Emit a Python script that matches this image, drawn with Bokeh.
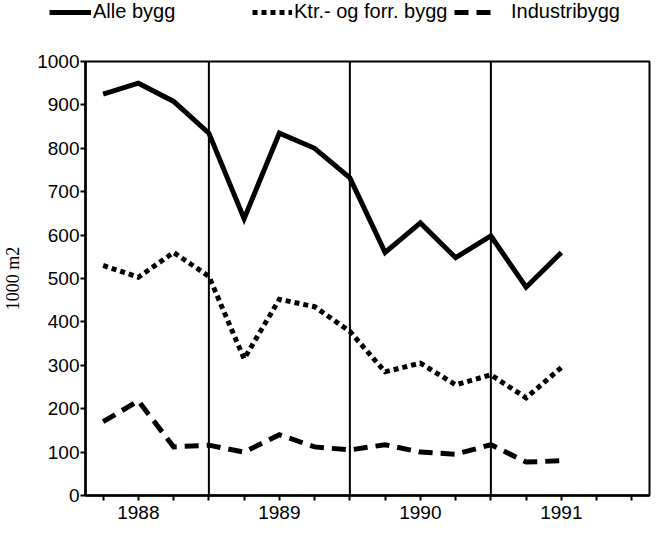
from bokeh.plotting import figure
from bokeh.layouts import column
from bokeh.models import Range1d, FixedTicker, Span, Legend, LegendItem
from bokeh.embed import file_html
from bokeh.resources import INLINE

# Quarterly positions: 1988 Q1 ... 1991 Q2
quarter_pos = list(range(1, 15))
alle_bygg = [925, 950, 908, 835, 638, 835, 800, 732, 560, 628, 548, 598, 480, 560]
ktr_forr = [530, 503, 560, 505, 315, 452, 435, 378, 285, 305, 255, 278, 225, 295]
industri = [170, 218, 112, 116, 100, 140, 112, 105, 117, 100, 95, 117, 77, 80]

series_names = ["Alle bygg", "Ktr.- og forr. bygg", "Industribygg"]
x_ticks = list(range(1, 17))
year_labels = ["1988", "1989", "1990", "1991"]
year_label_pos = [2, 6, 10, 14]
year_boundaries = [4, 8, 12]
y_ticks = list(range(0, 1001, 100))

SANS = "Liberation Sans"
SERIF = "Liberation Serif"
TOTAL_W = 647
LEG_H = 49

styles = [dict(line_dash="solid"), dict(line_dash="5 4"), dict(line_dash="14 8")]
series = [alle_bygg, ktr_forr, industri]

p = figure(frame_width=564, frame_height=434,
           min_border_left=79, min_border_right=4, min_border_top=12, min_border_bottom=27,
           x_range=Range1d(0.5, 16.5), y_range=Range1d(0, 1000),
           output_backend="svg", toolbar_location=None,
           background_fill_color="white", border_fill_color="white")

p.xgrid.visible = False
p.ygrid.visible = False
p.outline_line_color = "black"
p.outline_line_width = 2

p.xaxis.ticker = FixedTicker(ticks=x_ticks)
overrides = {t: "" for t in x_ticks}
for pos, lab in zip(year_label_pos, year_labels):
    overrides[pos] = lab
p.xaxis.major_label_overrides = overrides
p.yaxis.ticker = FixedTicker(ticks=y_ticks)
p.axis.minor_tick_line_color = None
p.axis.major_tick_in = 0
p.axis.major_tick_out = 5
p.axis.major_tick_line_width = 2
p.axis.major_tick_line_color = "black"
p.axis.axis_line_width = 2.5
p.axis.axis_line_color = "black"
p.axis.major_label_text_font = SANS
p.axis.major_label_text_font_size = "19px"
p.axis.major_label_text_color = "black"
p.yaxis.major_label_standoff = 1
p.xaxis.major_label_standoff = 5
p.yaxis.axis_label = "1000 m2"
p.yaxis.axis_label_text_font = SERIF
p.yaxis.axis_label_text_font_size = "18px"
p.yaxis.axis_label_text_font_style = "normal"
p.yaxis.axis_label_text_color = "black"
p.yaxis.axis_label_standoff = 11

for b in year_boundaries:
    p.add_layout(Span(location=b, dimension="height", line_color="black", line_width=2))

for vals, st in zip(series, styles):
    p.line(quarter_pos, vals, line_color="black", line_width=5, line_join="miter", **st)

# legend strip above the chart (its data range lies outside the series, so only the keys show)
pl = figure(width=TOTAL_W, height=LEG_H,
            min_border_left=0, min_border_right=0, min_border_top=0, min_border_bottom=0,
            x_range=Range1d(0, TOTAL_W), y_range=Range1d(2000, 2000 + LEG_H),
            x_axis_type=None, y_axis_type=None,
            output_backend="svg", toolbar_location=None,
            outline_line_color=None,
            background_fill_color="white", border_fill_color="white")
pl.xgrid.visible = False
pl.ygrid.visible = False

if hasattr(pl, "frame_align"):
    pl.frame_align = False
    p.frame_align = False

leg_x = [49, 252, 454]
leg_glyph_w = [42, 40, 38]
leg_standoff = [2, 2, 19]
for name, vals, st, lx, gw, so in zip(series_names, series, styles, leg_x, leg_glyph_w, leg_standoff):
    r = pl.line(quarter_pos, vals, line_color="black", line_width=5, **st)
    pl.add_layout(Legend(items=[LegendItem(label=name, renderers=[r])],
                         location=(lx, 26), orientation="horizontal",
                         glyph_width=gw, glyph_height=20, label_height=20,
                         label_standoff=so, padding=0, margin=0, spacing=0,
                         border_line_color=None, background_fill_alpha=0,
                         label_text_font=SANS, label_text_font_size="20px",
                         label_text_color="black"))

layout = column(pl, p, spacing=0)
open("out.html", "w").write(file_html(layout, INLINE))
